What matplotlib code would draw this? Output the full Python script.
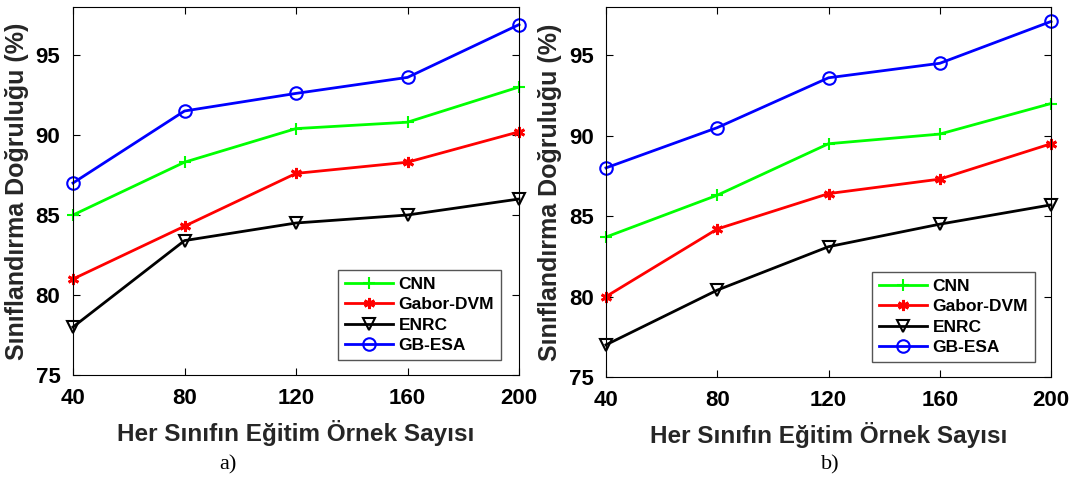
import numpy as np
import matplotlib.pyplot as plt

# --- veri ---
x = [40, 80, 120, 160, 200]
names = ['CNN', 'Gabor-DVM', 'ENRC', 'GB-ESA']

# a) paneli
cnn_a = [85.0, 88.3, 90.4, 90.8, 93.0]
gabor_a = [81.0, 84.3, 87.6, 88.3, 90.2]
enrc_a = [78.0, 83.4, 84.5, 85.0, 86.0]
gbesa_a = [87.0, 91.5, 92.6, 93.6, 96.9]

# b) paneli
cnn_b = [83.7, 86.3, 89.5, 90.1, 92.0]
gabor_b = [80.0, 84.2, 86.4, 87.3, 89.5]
enrc_b = [77.0, 80.4, 83.1, 84.5, 85.7]
gbesa_b = [88.0, 90.5, 93.6, 94.5, 97.1]

yticks = [75, 80, 85, 90, 95]
captions = ['a)', 'b)']

plt.rcParams['font.family'] = ['Liberation Sans', 'DejaVu Sans']
plt.rcParams['font.weight'] = 'bold'

W, H = 1074, 482
fig = plt.figure(figsize=(W / 100, H / 100), dpi=100)

# eksen konumlari (piksel)
boxes = [(73, 7, 519, 375), (606, 7, 1051, 377)]
leg_right = [501, 1035]
cap_x = [228, 830]

styles = [
    dict(color=(0, 1, 0), marker='+', markersize=9, mew=1.5),
    dict(color=(1, 0, 0), marker=(6, 2, 0), markersize=8, mew=2),
    dict(color='black', marker='v', markersize=9, mfc='none', mew=1.5),
    dict(color=(0, 0, 1), marker='o', markersize=9, mfc='none', mew=1.5),
]

panels = [[cnn_a, gabor_a, enrc_a, gbesa_a], [cnn_b, gabor_b, enrc_b, gbesa_b]]

for (l, t, r, b), lr, cx, series, cap in zip(boxes, leg_right, cap_x, panels, captions):
    ax = fig.add_axes([l / W, 1 - b / H, (r - l) / W, (b - t) / H])
    for ys, name, st in zip(series, names, styles):
        ax.plot(x, ys, '-', lw=2, label=name, clip_on=False, **st)
    ax.set_xlim(40, 200)
    ax.set_ylim(75, 98)
    ax.set_xticks(x)
    ax.set_yticks(yticks)
    ax.tick_params(direction='in', top=True, right=True, labelsize=16,
                   length=5, width=0.8, pad=9)
    for lab in ax.get_xticklabels() + ax.get_yticklabels():
        lab.set_fontweight('bold')
    for sp in ax.spines.values():
        sp.set_linewidth(0.8)
    ax.set_xlabel('Her Sınıfın Eğitim Örnek Sayısı', fontsize=17.5,
                  fontweight='bold', color='#262626', labelpad=8)
    ax.set_ylabel('Sınıflandırma Doğruluğu (%)', fontsize=18,
                  fontweight='bold', color='#262626', labelpad=5)
    leg = ax.legend(loc='lower right',
                    bbox_to_anchor=((lr - l) / (r - l), 15 / (b - t)),
                    borderaxespad=0, fontsize=12.5, fancybox=False,
                    framealpha=1, edgecolor='#555555', handlelength=2.8,
                    handletextpad=0.3, labelspacing=0.3, borderpad=0.4)
    for txt in leg.get_texts():
        txt.set_fontweight('bold')
    fig.text(cx / W, 1 - 465 / H, cap, ha='center',
             va='center', fontsize=16, family='Liberation Serif',
             fontweight='normal')

fig.savefig('out.png', dpi=100)
